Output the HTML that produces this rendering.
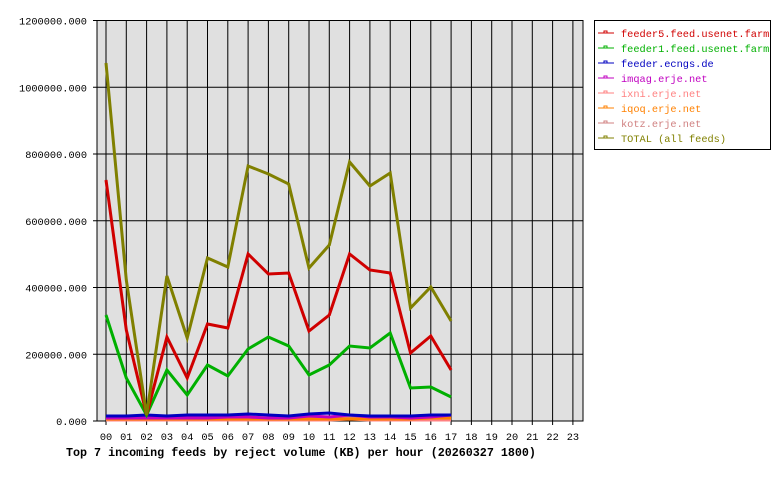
<!DOCTYPE html><html><head><style>body{margin:0;background:#fff}svg text{font-family:"Liberation Mono","DejaVu Sans Mono",monospace;font-size:10.3px}</style></head><body>
<svg width="780" height="480" xmlns="http://www.w3.org/2000/svg">
<rect x="97" y="20.5" width="486" height="400.5" fill="#e0e0e0" stroke="#000"/>
<g stroke="#000" stroke-width="1" id="g"></g>
<g id="lab"></g>
<text x="66" y="456" font-weight="bold" style="font-size:11.7px">Top 7 incoming feeds by reject volume (KB) per hour (20260327 1800)</text>
<rect x="594.5" y="20.5" width="176" height="129" fill="#fff" stroke="#000"/>
<g id="leg"></g>
<g id="series" fill="none" stroke-width="3" stroke-linejoin="miter"></g>
</svg>
<script>
const ns="http://www.w3.org/2000/svg";
function el(p,t,a,txt){const e=document.createElementNS(ns,t);for(const k in a)e.setAttribute(k,a[k]);if(txt!=null)e.textContent=txt;p.appendChild(e);return e;}
const g=document.getElementById('g'),lab=document.getElementById('lab');
const X=h=>106+20.3*h;
for(let h=0;h<24;h++){el(g,'line',{x1:X(h),x2:X(h),y1:20.5,y2:425});el(lab,'text',{x:X(h),y:440,'text-anchor':'middle'},String(h).padStart(2,'0'));}
for(let i=0;i<=6;i++){const y=421-i*66.75;el(g,'line',{x1:93,x2:583,y1:y,y2:y});el(lab,'text',{x:87,y:y+4,'text-anchor':'end'},(i*200000)+'.000');}
const S=document.getElementById('series');
function line(c,ys){el(S,'polyline',{stroke:c,points:ys.map((y,i)=>X(i)+','+y).join(' ')});}
line('#d08080',[419,419,419,419,419,419,419,418,419,419,419,419,418,418,418,418,418,417]);
line('#ff8080',[420,420,420,420,420,420,420,420,420,420,420,420,419,420,420,420,420,420]);
line('#ff8000',[419,419,419,419,419,419,419,419,419,419,419,419,419,419,419,419,418,418]);
line('#c000c0',[418,418,418,418,418,418,417,417,418,418,416,417,415,417,417,418,417,415]);
line('#0000c0',[416,416,415,416,415,415,415,414,415,416,414,413,415,416,416,416,415,415]);
line('#00b000',[315,378,415,370,395,365,376,349,337,346,375,365,346,348,333,388,387,397]);
line('#d00000',[180,330,415,337,378,324,328,254,274,273,331,315,254,270,273,353,336,370]);
line('#808000',[63,280,415,276,338,258,267,166,174,184,268,245,162,186,173,308,287,321]);
const L=document.getElementById('leg');
[['feeder5.feed.usenet.farm','#d00000'],['feeder1.feed.usenet.farm','#00b000'],['feeder.ecngs.de','#0000c0'],['imqag.erje.net','#c000c0'],['ixni.erje.net','#ff8080'],['iqoq.erje.net','#ff8000'],['kotz.erje.net','#d08080'],['TOTAL (all feeds)','#808000']].forEach((d,i)=>{const y=33+15*i;el(L,'line',{x1:598,x2:614,y1:y,y2:y,stroke:d[1]});el(L,'rect',{x:604,y:y-2,width:3,height:2,fill:'none',stroke:d[1],'stroke-width':1});el(L,'text',{x:621,y:y+4,fill:d[1]},d[0]);});
</script>
</body></html>
